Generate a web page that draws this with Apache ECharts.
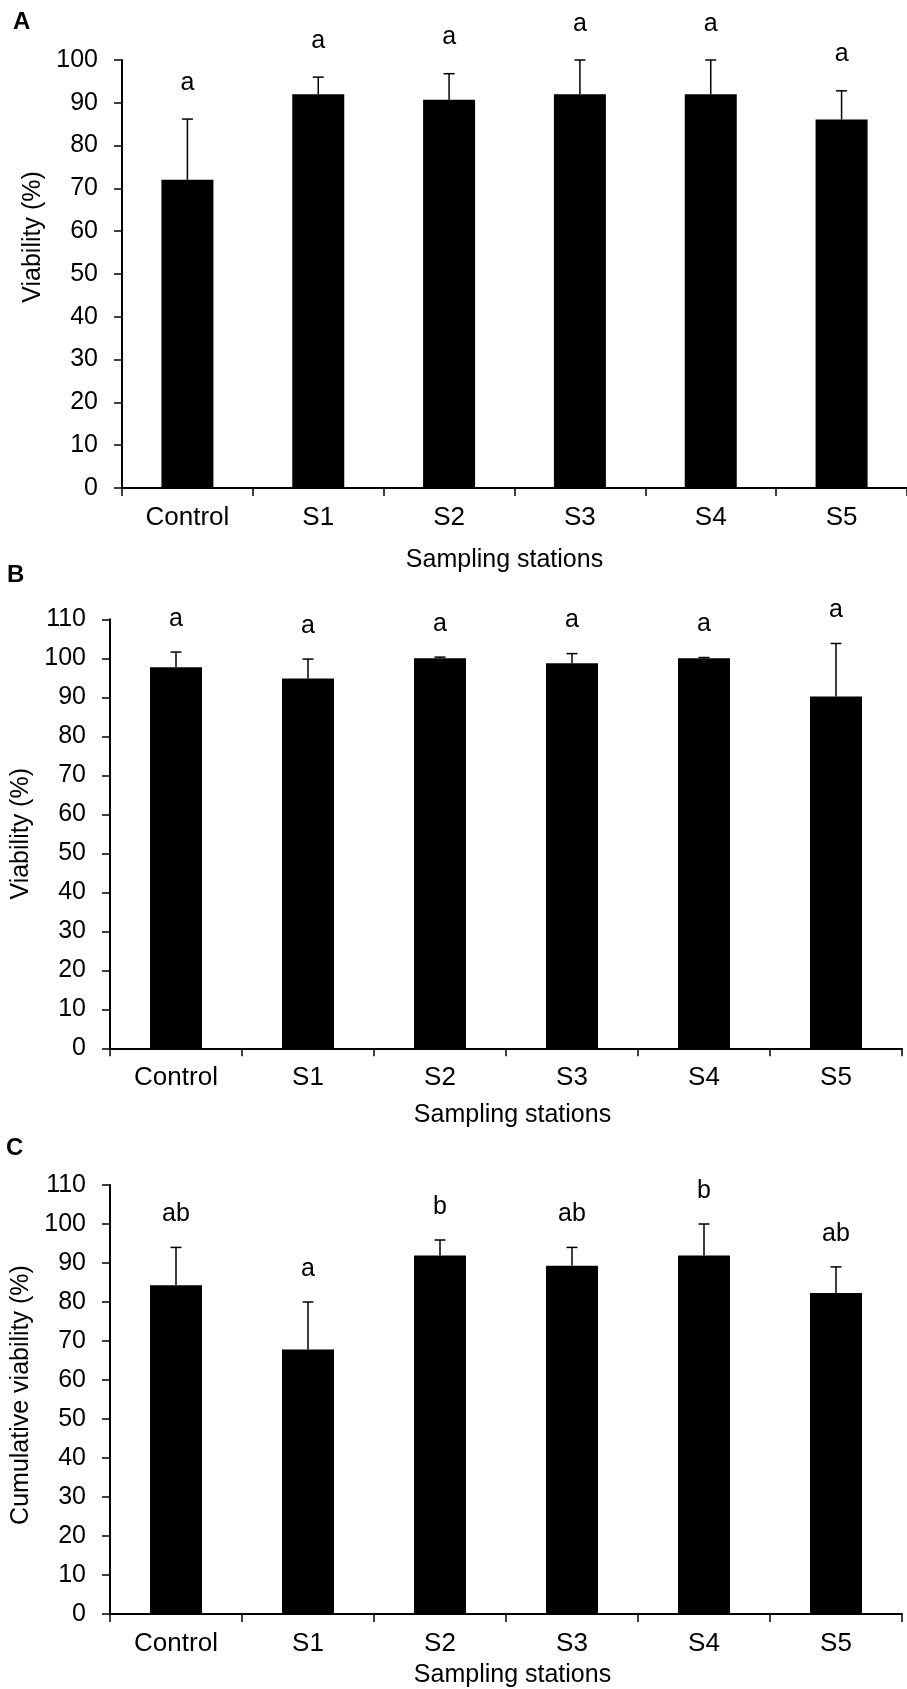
<!DOCTYPE html>
<html>
<head>
<meta charset="utf-8">
<script src="https://cdn.jsdelivr.net/npm/echarts@6/dist/echarts.min.js"></script>
<style>
html,body{margin:0;padding:0;background:#fff;}
#chart{width:907px;height:1689px;}
</style>
</head>
<body>
<div id="chart"></div>
<script>
// ---- Data ----
const categories = ['Control', 'S1', 'S2', 'S3', 'S4', 'S5'];

const meanA = [72.0, 92.0, 90.7, 92.0, 92.0, 86.1];
const sdA   = [14.2, 4.0, 6.1, 8.0, 8.0, 6.7];
const lettersA = ['a', 'a', 'a', 'a', 'a', 'a'];

const meanB = [97.7, 94.8, 100.0, 98.7, 100.0, 90.2];
const sdB   = [3.9, 5.0, 0.3, 2.5, 0.2, 13.6];
const lettersB = ['a', 'a', 'a', 'a', 'a', 'a'];

const meanC = [84.3, 67.8, 91.9, 89.3, 91.9, 82.3];
const sdC   = [9.7, 12.2, 4.0, 4.7, 8.1, 6.7];
const lettersC = ['ab', 'a', 'b', 'ab', 'b', 'ab'];

const yTitleA = 'Viability (%)';
const yTitleB = 'Viability (%)';
const yTitleC = 'Cumulative viability (%)';
const xTitle = 'Sampling stations';

// ---- Styling ----
const FONT = '"Liberation Sans", Arial, sans-serif';
const FS = 25;

function errSeries(idx, means, sds, letters) {
  return {
    type: 'custom',
    xAxisIndex: idx, yAxisIndex: idx,
    z: 5,
    data: means.map((m, i) => [i, m, sds[i]]),
    renderItem: function (params, api) {
      const i = api.value(0), m = api.value(1), s = api.value(2);
      const p0 = api.coord([i, m]);
      const p1 = api.coord([i, m + s]);
      const pl = api.coord([i, m + s + 8]);
      const half = 5.5;
      return {
        type: 'group',
        children: [
          { type: 'line', shape: { x1: p0[0], y1: p0[1], x2: p1[0], y2: p1[1] },
            style: { stroke: '#000', lineWidth: 1.5 } },
          { type: 'line', shape: { x1: p1[0] - half, y1: p1[1], x2: p1[0] + half, y2: p1[1] },
            style: { stroke: '#000', lineWidth: 1.5 } },
          { type: 'text', style: { text: letters[params.dataIndex], x: pl[0], y: pl[1] - 2,
            align: 'center', verticalAlign: 'middle', fill: '#000',
            fontSize: FS, fontFamily: FONT } }
        ]
      };
    }
  };
}

function xAxisDef(idx, gap, pad) {
  return {
    type: 'category', gridIndex: idx, data: categories,
    axisLine: { lineStyle: { color: '#000', width: 2 } },
    axisTick: { show: true, inside: false, length: 8, lineStyle: { color: '#000', width: 1.5 } },
    axisLabel: { color: '#000', fontSize: 26, fontFamily: FONT, margin: 17 },
    name: xTitle, nameLocation: 'middle', nameGap: gap,
    nameTextStyle: { color: '#000', fontSize: FS, fontFamily: FONT, padding: pad }
  };
}

function yAxisDef(idx, max, title, gap, pad) {
  return {
    type: 'value', gridIndex: idx, min: 0, max: max, interval: 10,
    splitLine: { show: false },
    axisLine: { show: true, lineStyle: { color: '#000', width: 2 } },
    axisTick: { show: true, inside: false, length: 8, lineStyle: { color: '#000', width: 1.5 } },
    axisLabel: { color: '#000', fontSize: FS, fontFamily: FONT, margin: 24 },
    name: title, nameLocation: 'middle', nameGap: gap,
    nameTextStyle: { color: '#000', fontSize: FS, fontFamily: FONT, padding: pad }
  };
}

function barSeries(idx, means) {
  return {
    type: 'bar', xAxisIndex: idx, yAxisIndex: idx,
    data: means, barWidth: 52,
    itemStyle: { color: '#000' }, z: 2
  };
}

const chart = echarts.init(document.getElementById('chart'), null, { renderer: 'canvas' });
chart.setOption({
  animation: false,
  backgroundColor: '#fff',
  grid: [
    { left: 122, top: 60, width: 789, height: 428 },
    { left: 110, top: 619.3, width: 792, height: 429 },
    { left: 110, top: 1185, width: 792, height: 429 }
  ],
  xAxis: [
    xAxisDef(0, 60, [0, 20, 0, 0]),
    xAxisDef(1, 54, [0, 0, 0, 13]),
    xAxisDef(2, 49, [0, 0, 0, 13])
  ],
  yAxis: [
    yAxisDef(0, 100, yTitleA, 73, [0, 0, 0, 74]),
    yAxisDef(1, 110, yTitleB, 70, [0, 0, 0, 0]),
    yAxisDef(2, 110, yTitleC, 67, [0, 0, 0, 9])
  ],
  graphic: [
    { type: 'text', left: 13, top: 10, style: { text: 'A', font: 'bold 24px ' + FONT, fill: '#000' } },
    { type: 'text', left: 7, top: 563, style: { text: 'B', font: 'bold 24px ' + FONT, fill: '#000' } },
    { type: 'text', left: 6, top: 1136, style: { text: 'C', font: 'bold 24px ' + FONT, fill: '#000' } }
  ],
  series: [
    barSeries(0, meanA), errSeries(0, meanA, sdA, lettersA),
    barSeries(1, meanB), errSeries(1, meanB, sdB, lettersB),
    barSeries(2, meanC), errSeries(2, meanC, sdC, lettersC)
  ]
});
</script>
</body>
</html>
